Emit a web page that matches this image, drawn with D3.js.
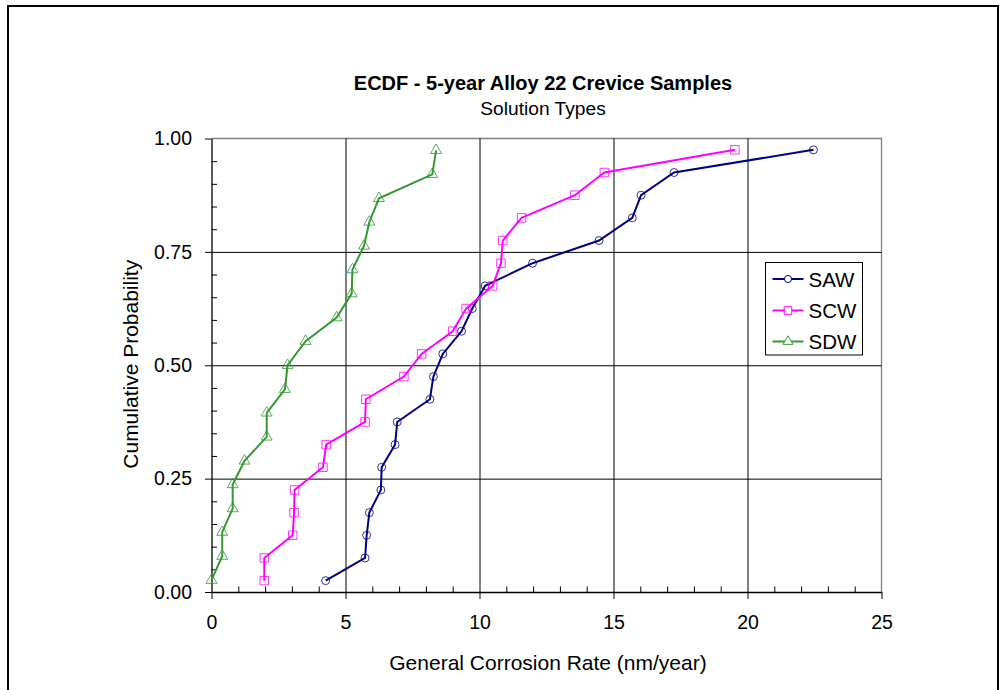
<!DOCTYPE html>
<html>
<head>
<meta charset="utf-8">
<script src="https://cdn.jsdelivr.net/npm/d3@7"></script>
<style>
  html, body { margin: 0; padding: 0; background: #fff; }
  svg { display: block; font-family: "Liberation Sans", Arial, sans-serif; }
</style>
</head>
<body>
<svg id="chart" width="1000" height="690"></svg>
<script>
// General corrosion rates (nm/year) and cumulative probabilities per solution type
const sawRate = [4.26, 5.73, 5.79, 5.89, 6.32, 6.35, 6.85, 6.93, 8.15, 8.28, 8.63, 9.33, 9.73, 10.21, 11.98, 14.46, 15.70, 16.03, 17.26, 22.46];
const sawProb = [0.025, 0.075, 0.125, 0.175, 0.225, 0.275, 0.325, 0.375, 0.425, 0.475, 0.525, 0.575, 0.625, 0.675, 0.725, 0.775, 0.825, 0.875, 0.925, 0.975];

const scwRate = [1.97, 1.97, 3.03, 3.08, 3.10, 4.16, 4.28, 5.73, 5.76, 7.18, 7.84, 9.00, 9.50, 10.49, 10.80, 10.87, 11.57, 13.56, 14.66, 19.53];
const scwProb = [0.025, 0.075, 0.125, 0.175, 0.225, 0.275, 0.325, 0.375, 0.425, 0.475, 0.525, 0.575, 0.625, 0.675, 0.725, 0.775, 0.825, 0.875, 0.925, 0.975];

const sdwRate = [0.00, 0.40, 0.40, 0.79, 0.79, 1.23, 2.06, 2.06, 2.74, 2.84, 3.51, 4.67, 5.23, 5.26, 5.69, 5.89, 6.25, 8.24, 8.38];
const sdwProb = [0.026, 0.079, 0.132, 0.184, 0.237, 0.289, 0.342, 0.395, 0.447, 0.500, 0.553, 0.605, 0.658, 0.711, 0.763, 0.816, 0.868, 0.921, 0.974];

const seriesNames = ["SAW", "SCW", "SDW"];
const xTicks = [0, 5, 10, 15, 20, 25];
const yTicks = [0, 0.25, 0.5, 0.75, 1.0];

const titleText = "ECDF - 5-year Alloy 22 Crevice Samples";
const subtitleText = "Solution Types";
const xLabel = "General Corrosion Rate (nm/year)";
const yLabel = "Cumulative Probability";

const series = [
  { name: seriesNames[0], rate: sawRate, prob: sawProb, color: "#000080", symbol: d3.symbolCircle, size: 50 },
  { name: seriesNames[1], rate: scwRate, prob: scwProb, color: "#ff00ff", symbol: d3.symbolSquare, size: 72 },
  { name: seriesNames[2], rate: sdwRate, prob: sdwProb, color: "#339933", symbol: d3.symbolTriangle, size: 52 }
];

const svg = d3.select("#chart");
const plot = { left: 211.5, right: 881.5, top: 138.5, bottom: 592 };

const x = d3.scaleLinear().domain([0, 25]).range([plot.left, plot.right]);
const y = d3.scaleLinear().domain([0, 1]).range([plot.bottom, plot.top]);

// Outer frame
svg.append("rect")
  .attr("x", 8).attr("y", 6).attr("width", 990).attr("height", 720)
  .attr("fill", "#fff").attr("stroke", "#000").attr("stroke-width", 2);

// Titles
svg.append("text").attr("x", 543).attr("y", 90)
  .attr("text-anchor", "middle").attr("font-weight", "bold").attr("font-size", 20)
  .text(titleText);
svg.append("text").attr("x", 543).attr("y", 115)
  .attr("text-anchor", "middle").attr("font-size", 19.2)
  .text(subtitleText);

// Plot frame (top and right edges)
svg.append("path")
  .attr("d", `M${plot.left},${plot.top}H${plot.right}V${plot.bottom}`)
  .attr("fill", "none").attr("stroke", "#808080").attr("stroke-width", 1.3);

// Gridlines
const gridX = svg.append("g").attr("transform", `translate(0,${plot.bottom})`)
  .call(d3.axisBottom(x).tickValues([5, 10, 15, 20]).tickSize(-(plot.bottom - plot.top)).tickFormat(""));
gridX.select(".domain").remove();
gridX.selectAll("line").attr("stroke", "#000").attr("stroke-width", 1);

const gridY = svg.append("g").attr("transform", `translate(${plot.left},0)`)
  .call(d3.axisLeft(y).tickValues([0.25, 0.5, 0.75]).tickSize(-(plot.right - plot.left)).tickFormat(""));
gridY.select(".domain").remove();
gridY.selectAll("line").attr("stroke", "#000").attr("stroke-width", 1);

// Minor ticks (inside)
const minorX = d3.range(0, 26, 1).filter(v => v % 5 !== 0);
const minorY = d3.range(0, 101, 5).map(v => v / 100).filter(v => Math.round(v * 100) % 25 !== 0);

const mx = svg.append("g").attr("transform", `translate(0,${plot.bottom})`)
  .call(d3.axisBottom(x).tickValues(minorX).tickSize(-5.5).tickSizeOuter(0).tickFormat(""));
mx.select(".domain").remove();
mx.selectAll("line").attr("stroke", "#000");

const my = svg.append("g").attr("transform", `translate(${plot.left},0)`)
  .call(d3.axisLeft(y).tickValues(minorY).tickSize(-5.5).tickSizeOuter(0).tickFormat(""));
my.select(".domain").remove();
my.selectAll("line").attr("stroke", "#000");

// Major axes
const ax = svg.append("g").attr("transform", `translate(0,${plot.bottom})`)
  .call(d3.axisBottom(x).tickValues(xTicks).tickSize(7).tickSizeOuter(0).tickPadding(16).tickFormat(d3.format("d")));
ax.select(".domain").attr("stroke", "#000").attr("stroke-width", 1.3);
ax.selectAll("line").attr("stroke", "#000");
ax.selectAll("text").attr("font-size", 19.5).attr("font-family", "Liberation Sans, Arial, sans-serif").attr("fill", "#000");

const ay = svg.append("g").attr("transform", `translate(${plot.left},0)`)
  .call(d3.axisLeft(y).tickValues(yTicks).tickSize(6.5).tickSizeOuter(0).tickPadding(13).tickFormat(d3.format(".2f")));
ay.select(".domain").attr("stroke", "#000").attr("stroke-width", 1.3);
ay.selectAll("line").attr("stroke", "#000");
ay.selectAll("text").attr("font-size", 19.5).attr("font-family", "Liberation Sans, Arial, sans-serif").attr("fill", "#000");

// Axis titles
svg.append("text").attr("x", (plot.left + plot.right) / 2 + 1.5).attr("y", 670)
  .attr("text-anchor", "middle").attr("font-size", 21).text(xLabel);
svg.append("text")
  .attr("transform", `translate(138,${(plot.top + plot.bottom) / 2 - 1}) rotate(-90)`)
  .attr("text-anchor", "middle").attr("font-size", 21).text(yLabel);

// Series lines and markers
const line = d3.line().x(d => x(d[0])).y(d => y(d[1]));
series.forEach(s => {
  const pts = s.rate.map((r, i) => [r, s.prob[i]]);
  const g = svg.append("g");
  g.append("path").datum(pts).attr("d", line)
    .attr("fill", "none").attr("stroke", s.color).attr("stroke-width", 2);
  g.selectAll("path.mk").data(pts).join("path").attr("class", "mk")
    .attr("d", d3.symbol().type(s.symbol).size(s.size))
    .attr("transform", d => `translate(${x(d[0])},${y(d[1])})`)
    .attr("fill", "none").attr("stroke", s.color).attr("stroke-width", 1).attr("stroke-opacity", 0.8);
});

// Legend
const lg = svg.append("g");
lg.append("rect").attr("x", 765.5).attr("y", 262.5).attr("width", 97).attr("height", 92.5)
  .attr("fill", "#fff").attr("stroke", "#000").attr("stroke-width", 1);
const legendY = [279, 310.5, 341.5];
series.forEach((s, i) => {
  const ly = legendY[i];
  lg.append("line").attr("x1", 772.5).attr("x2", 803.5).attr("y1", ly).attr("y2", ly)
    .attr("stroke", s.color).attr("stroke-width", 2);
  lg.append("path").attr("d", d3.symbol().type(s.symbol).size(s.size * 0.8))
    .attr("transform", `translate(788,${ly})`)
    .attr("fill", "#fff").attr("stroke", s.color).attr("stroke-width", 1);
  lg.append("text").attr("x", 808.5).attr("y", ly + 7.5)
    .attr("font-size", 20.5).text(s.name);
});
</script>
</body>
</html>
